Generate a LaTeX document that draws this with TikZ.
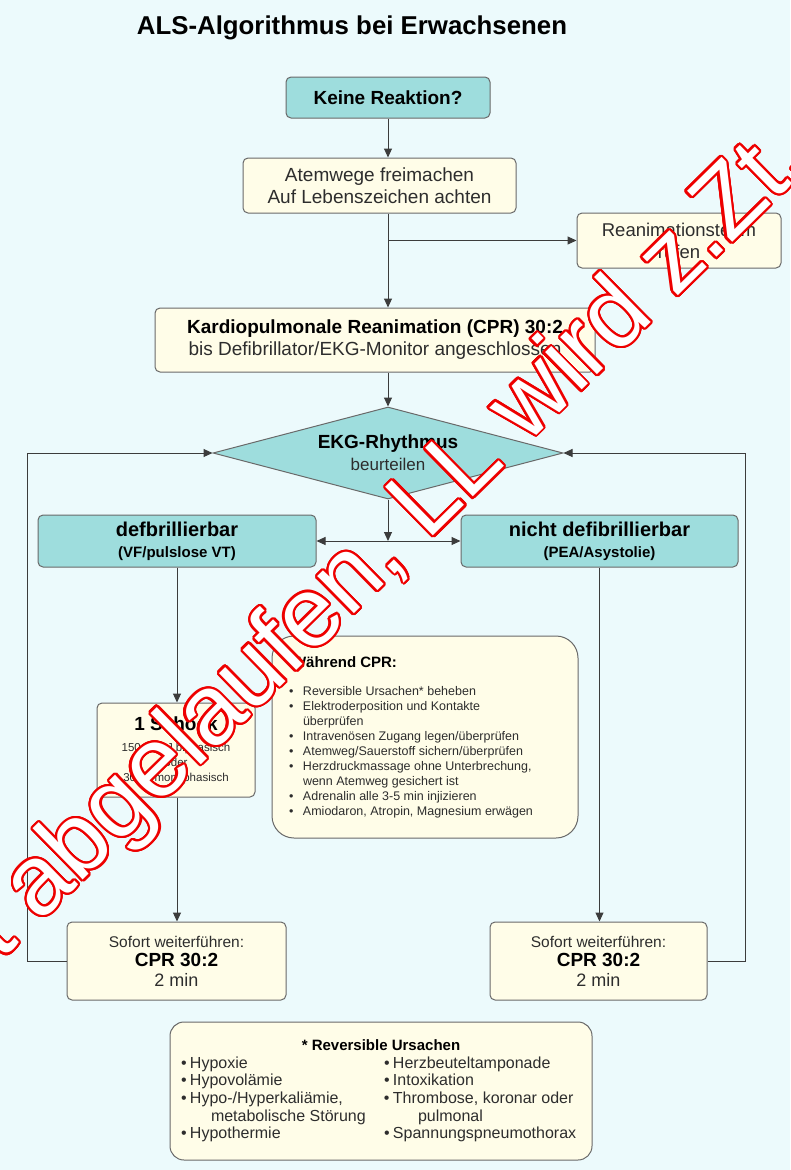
\documentclass[tikz,border=0pt]{standalone}
\usepackage{fontspec}
\setmainfont{Liberation Sans}
\usetikzlibrary{shapes.geometric,arrows.meta}

\definecolor{bgcyan}{RGB}{236,250,252}
\definecolor{boxteal}{RGB}{158,221,221}
\definecolor{boxcream}{RGB}{255,253,232}
\definecolor{edgegray}{RGB}{105,105,105}
\definecolor{wiregray}{RGB}{60,60,60}
\definecolor{inkgray}{RGB}{45,45,45}
\definecolor{wmred}{RGB}{238,0,0}

\newcommand\setfs[2]{\fontsize{#1pt}{#2pt}\selectfont}
\newcommand\dotitem{\makebox[14pt][l]{\textbullet}}
\newcommand\causebul{\makebox[9pt][l]{\textbullet}}
\newcommand\leftcell[1]{\makebox[203pt][l]{#1}}

\begin{document}
\begin{tikzpicture}[x=1pt,y=-1pt,
  box/.style={draw=edgegray, line width=1pt, rounded corners=5pt, inner sep=0pt, align=center, text=inkgray},
  tealbox/.style={box, fill=boxteal},
  creambox/.style={box, fill=boxcream},
  link/.style={draw=wiregray, line width=1pt},
  arr/.style={link, -{Triangle[length=9pt,width=8pt]}},
  biarr/.style={link, {Triangle[length=9pt,width=8pt]}-{Triangle[length=9pt,width=8pt]}},
  wm/.style={anchor=base west, rotate=44.5, inner sep=0pt, font=\setfs{99}{100}},
]
\useasboundingbox (0,0) rectangle (790,1170);
\fill[bgcyan] (0,0) rectangle (790,1170);

\begin{scope}
\clip (0,0) rectangle (790,1170);

% title
\node[font=\setfs{25.8}{28}\bfseries, text=black] (title) at (352,28) {ALS-Algorithmus bei Erwachsenen};

% flow boxes
\node[tealbox, minimum width=204pt, minimum height=41pt, font=\setfs{19}{22}\bfseries, text=black]
  (start) at (388,97.5) {Keine Reaktion?};
\node[creambox, minimum width=273pt, minimum height=55pt, font=\setfs{19}{22}]
  (airway) at (379.5,185.5) {Atemwege freimachen\\Auf Lebenszeichen achten};
\node[creambox, minimum width=204pt, minimum height=55pt, font=\setfs{18.5}{22}]
  (team) at (679,240.5) {Reanimationsteam\\rufen};
\node[creambox, minimum width=440pt, minimum height=64pt, font=\setfs{19}{22}]
  (cpr) at (375,340) {{\bfseries\color{black}Kardiopulmonale Reanimation (CPR) 30:2}\\bis Defibrillator/EKG-Monitor angeschlossen};
\node[diamond, aspect=3.9, draw=edgegray, line width=1pt, fill=boxteal, inner sep=0pt,
      minimum width=350pt, minimum height=92pt, align=center, text=inkgray, font=\setfs{19}{22}]
  (rhythm) at (388,453) {{\bfseries\color{black}EKG-Rhythmus}\\{\setfs{17}{22}beurteilen}};

\node[tealbox, minimum width=278pt, minimum height=52pt, text=black, font=\setfs{20}{21}]
  (shock) at (177,541) {{\bfseries defbrillierbar}\\{\setfs{15}{21}\bfseries (VF/pulslose VT)}};
\node[tealbox, minimum width=277pt, minimum height=52pt, text=black, font=\setfs{20}{21}]
  (noshock) at (599.5,541) {{\bfseries nicht defibrillierbar}\\{\setfs{15}{21}\bfseries (PEA/Asystolie)}};

\node[creambox, minimum width=158pt, minimum height=94pt, font=\setfs{11.5}{15}]
  (schock) at (176,750) {{\setfs{19}{15}\bfseries\color{black}1 Schock}\\[6pt]
    150-360 J biphasisch\\oder\\300 J monophasisch};

\node[creambox, rounded corners=22pt, minimum width=306pt, minimum height=202pt]
  (during) at (425,737) {%
  \begin{minipage}{272pt}
  \hspace*{3pt}{\setfs{15}{18}\bfseries\color{black}Während CPR:}\par\vspace{13pt}
  \setfs{12.5}{15}%
  \dotitem Reversible Ursachen* beheben\\
  \dotitem Elektroderposition und Kontakte\\
  \hspace*{14pt}überprüfen\\
  \dotitem Intravenösen Zugang legen/überprüfen\\
  \dotitem Atemweg/Sauerstoff sichern/überprüfen\\
  \dotitem Herzdruckmassage ohne Unterbrechung,\\
  \hspace*{14pt}wenn Atemweg gesichert ist\\
  \dotitem Adrenalin alle 3-5 min injizieren\\
  \dotitem Amiodaron, Atropin, Magnesium erwägen
  \end{minipage}};

\node[creambox, minimum width=219pt, minimum height=78pt, font=\setfs{18}{19.5}]
  (contL) at (176.5,961) {{\setfs{15.5}{19.5}Sofort weiterführen:}\\{\bfseries\color{black}\setfs{19}{19.5}CPR 30:2}\\2 min};
\node[creambox, minimum width=217pt, minimum height=78pt, font=\setfs{18}{19.5}]
  (contR) at (598.5,961) {{\setfs{15.5}{19.5}Sofort weiterführen:}\\{\bfseries\color{black}\setfs{19}{19.5}CPR 30:2}\\2 min};

\node[creambox, rounded corners=14pt, minimum width=422pt, minimum height=138pt, align=left,
      font=\setfs{16}{17.6}]
  (causes) at (381,1091) {%
  \makebox[400pt][c]{\setfs{15}{17.6}\bfseries\color{black}* Reversible Ursachen}\\
  \leftcell{\causebul Hypoxie}\causebul Herzbeuteltamponade\\
  \leftcell{\causebul Hypovolämie}\causebul Intoxikation\\
  \leftcell{\causebul Hypo-/Hyperkaliämie,}\causebul Thrombose, koronar oder\\
  \leftcell{\hspace*{30pt}metabolische Störung}\hspace*{34pt}pulmonal\\
  \leftcell{\causebul Hypothermie}\causebul Spannungspneumothorax};

% rails of the two loops
\coordinate (leftrail) at (27,0);
\coordinate (rightrail) at (745,0);

% connectors
\draw[arr] (start.south) -- (start.south |- airway.north);
\draw[arr] (start.south |- airway.south) -- (start.south |- cpr.north);
\draw[arr] (start.south |- team.west) -- (team.west);
\draw[arr] (start.south |- cpr.south) -- (rhythm.north);
\draw[arr] (rhythm.south) -- (rhythm.south |- shock.east);
\draw[biarr] (shock.east) -- (noshock.west);
\draw[arr] (shock.south) -- (shock.south |- schock.north);
\draw[arr] (shock.south |- schock.south) -- (shock.south |- contL.north);
\draw[arr] (noshock.south) -- (noshock.south |- contR.north);
\draw[arr] (contL.west) -- (contL.west -| leftrail) |- (rhythm.west);
\draw[arr] (contR.east) -- (contR.east -| rightrail) |- (rhythm.east);

% outlined stamp across the sheet
\coordinate (wmstart) at (0,962);
\foreach \ang in {0,15,...,345}
  \node[wm, text=wmred, xshift={2.2pt*cos(\ang)}, yshift={2.2pt*sin(\ang)}] (wm-\ang) at (wmstart) {t abgelaufen, LL wird z.Zt.};
\node[wm, text=white] (stamp) at (wmstart) {t abgelaufen, LL wird z.Zt.};
\end{scope}
\end{tikzpicture}
\end{document}
